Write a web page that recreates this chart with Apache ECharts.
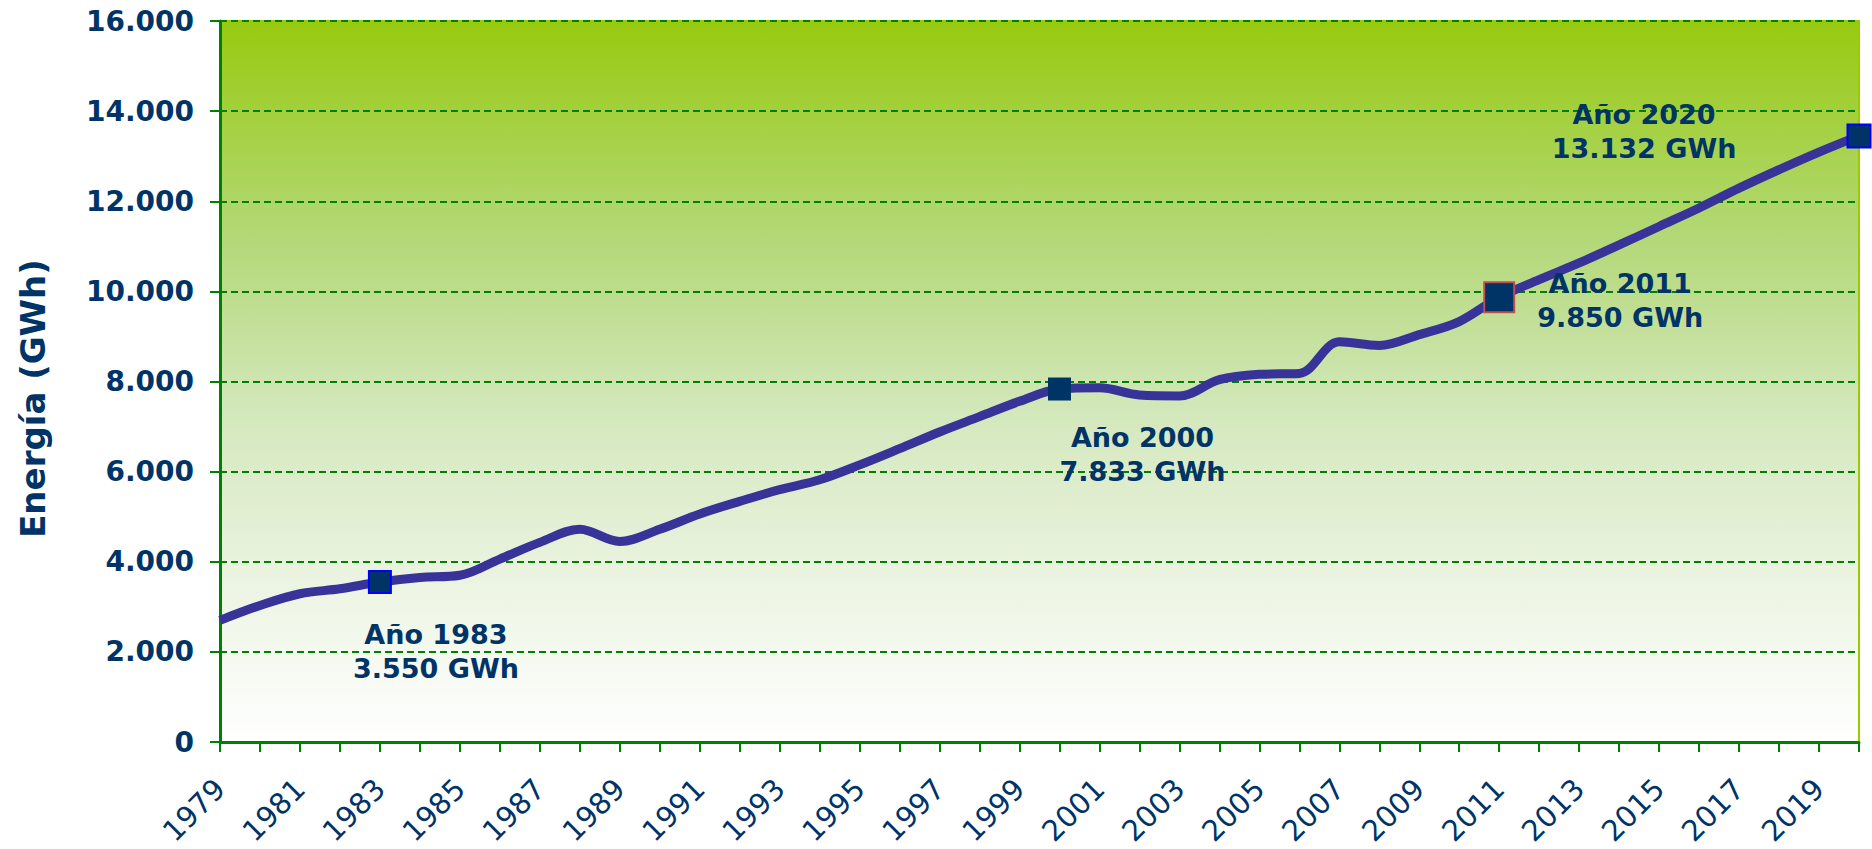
<!DOCTYPE html>
<html>
<head>
<meta charset="utf-8">
<script src="https://cdn.jsdelivr.net/npm/echarts@6/dist/echarts.min.js"></script>
<style>
  html, body { margin: 0; padding: 0; background: #ffffff; }
  #chart { width: 1872px; height: 849px; }
</style>
</head>
<body>
<div id="chart"></div>
<script>
// ---- data ----
var years = ['1979','1980','1981','1982','1983','1984','1985','1986','1987','1988',
             '1989','1990','1991','1992','1993','1994','1995','1996','1997','1998',
             '1999','2000','2001','2002','2003','2004','2005','2006','2007','2008',
             '2009','2010','2011','2012','2013','2014','2015','2016','2017','2018',
             '2019','2020'];
var energy = [2700, 3030, 3290, 3400, 3550, 3650, 3700, 4060, 4430, 4720,
              4450, 4720, 5060, 5340, 5600, 5820, 6150, 6510, 6880, 7220,
              7560, 7833, 7860, 7700, 7680, 8040, 8160, 8180, 8880, 8800,
              9040, 9330, 9870, 10260, 10630, 11030, 11440, 11850, 12290, 12700,
              13090, 13450];
var highlightYears = ['1983', '2000', '2011', '2020'];
var highlightTexts = ['3.550', '7.833', '9.850', '13.132'];

// ---- styles ----
var navy = '#003366';
var green = '#008000';
var font = 'DejaVu Sans';
var markStyles = [
  { size: 22, border: '#0000ff', bw: 2, offset: [56, 69] },
  { size: 23, border: navy, bw: 0, offset: [83, 65] },
  { size: 30, border: '#c0504d', bw: 2, offset: [121, 3] },
  { size: 23, border: '#0000ff', bw: 2, offset: [-215, -4] }
];

function fmtThousands(v) {
  return String(v).replace(/\B(?=(\d{3})+(?!\d))/g, '.');
}

var scatterData = highlightYears.map(function (y, i) {
  var s = markStyles[i];
  return {
    value: [y, energy[years.indexOf(y)]],
    symbolSize: s.size,
    itemStyle: { color: navy, borderColor: s.border, borderWidth: s.bw, opacity: 1 },
    label: {
      show: true,
      position: 'inside',
      offset: s.offset,
      formatter: 'Año ' + y + '\n' + highlightTexts[i] + ' GWh'
    }
  };
});

var chart = echarts.init(document.getElementById('chart'), null, { renderer: 'svg' });
chart.setOption({
  backgroundColor: '#ffffff',
  animation: false,
  grid: {
    left: 220, right: 13, top: 21, bottom: 107,
    show: true,
    borderColor: '#99cc00',
    borderWidth: 2,
    backgroundColor: new echarts.graphic.LinearGradient(0, 0, 0, 1, [
      { offset: 0, color: '#98ca10' },
      { offset: 0.3, color: '#b3d877' },
      { offset: 0.55, color: '#d4e8bd' },
      { offset: 0.8, color: '#eef5e5' },
      { offset: 1, color: '#ffffff' }
    ])
  },
  xAxis: {
    type: 'category',
    data: years,
    boundaryGap: false,
    axisLine: { show: true, lineStyle: { color: green, width: 3 } },
    axisTick: { show: true, interval: 0, length: 10, lineStyle: { color: green, width: 2 } },
    axisLabel: {
      interval: 1,
      rotate: 45,
      margin: 42,
      color: navy,
      fontFamily: font,
      fontSize: 29
    },
    splitLine: { show: false }
  },
  yAxis: {
    type: 'value',
    min: 0,
    max: 16000,
    interval: 2000,
    name: 'Energía (GWh)',
    nameLocation: 'middle',
    nameGap: 170,
    nameTextStyle: {
      color: navy, fontFamily: font, fontWeight: 'bold', fontSize: 34,
      padding: [0, 34, 0, 0]
    },
    axisLine: { show: true, lineStyle: { color: green, width: 3 } },
    axisTick: { show: true, length: 10, lineStyle: { color: green, width: 2 } },
    axisLabel: {
      margin: 26,
      color: navy,
      fontFamily: font,
      fontWeight: 'bold',
      fontSize: 28,
      formatter: function (v) { return fmtThousands(v); }
    },
    splitLine: { show: true, lineStyle: { color: green, width: 2, type: [7, 4] } }
  },
  series: [
    {
      type: 'line',
      data: energy,
      smooth: 0.35,
      showSymbol: false,
      symbol: 'none',
      lineStyle: { color: '#373399', width: 9 },
      z: 3
    },
    {
      type: 'scatter',
      symbol: 'rect',
      data: scatterData,
      clip: false,
      z: 5,
      itemStyle: { opacity: 1 },
      label: {
        color: navy,
        opacity: 1,
        fontFamily: font,
        fontWeight: 'bold',
        fontSize: 27,
        lineHeight: 34,
        align: 'center',
        verticalAlign: 'middle'
      }
    }
  ]
});
</script>
</body>
</html>
